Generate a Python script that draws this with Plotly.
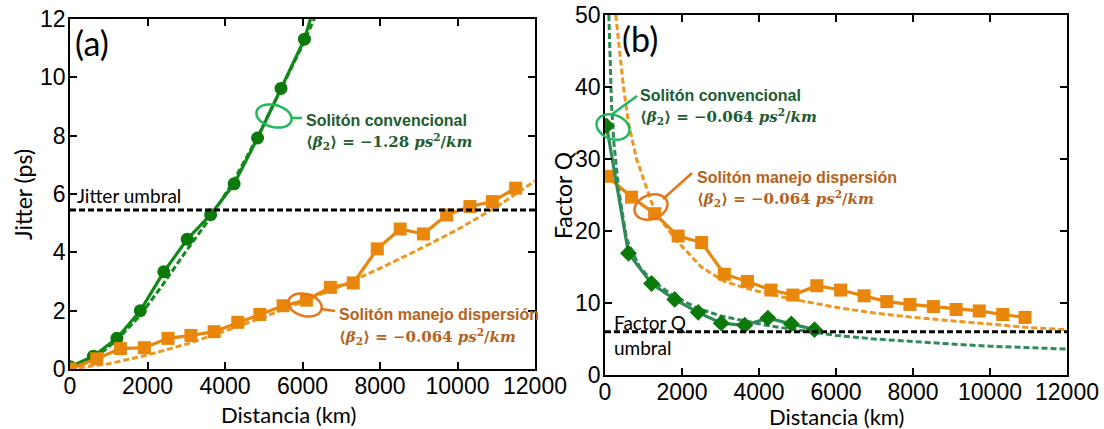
import numpy as np
import plotly.graph_objects as go

W, H = 1104, 429

# ---------------- Panel (a): Jitter ----------------
dist_conv_a = [0, 605, 1210, 1815, 2420, 3025, 3630, 4235, 4840, 5445, 6050, 6655]
jitter_conv = [0.08, 0.44, 1.05, 2.0, 3.33, 4.45, 5.29, 6.35, 7.92, 9.62, 11.31, 14.0]

fit_dist_conv_a = [0, 600, 1200, 1800, 2400, 3000, 3600, 4200, 4800, 5400, 6000, 6300, 6600]
fit_jitter_conv = [0, 0.33, 0.98, 1.82, 2.9, 4.05, 5.15, 6.4, 7.85, 9.45, 11.1, 12.0, 12.9]

dist_dm_a = [0, 690, 1300, 1920, 2530, 3120, 3720, 4330, 4900, 5500, 6100, 6720,
             7310, 7930, 8520, 9120, 9720, 10320, 10900, 11500]
jitter_dm = [0.0, 0.35, 0.70, 0.73, 1.05, 1.15, 1.28, 1.60, 1.87, 2.17, 2.36, 2.80,
             2.95, 4.12, 4.80, 4.63, 5.28, 5.57, 5.74, 6.20]

fit_dist_dm_a = [0, 1000, 2000, 3000, 4000, 5000, 6000, 7000, 8000, 9000, 10000, 11000, 12000]
fit_jitter_dm = [0, 0.18, 0.48, 0.85, 1.3, 1.78, 2.3, 2.85, 3.45, 4.1, 4.78, 5.55, 6.45]

jitter_umbral = 5.45

# ---------------- Panel (b): Factor Q ----------------
dist_conv_b = [40, 610, 1210, 1810, 2420, 3020, 3630, 4230, 4840, 5440]
q_conv = [34.6, 16.9, 12.7, 10.5, 8.7, 7.2, 6.9, 7.9, 7.1, 6.3]

fit_dist_conv_b = [90, 100, 170, 235, 365, 560, 900, 1200, 1800, 2400, 3000, 3600, 4200,
                   4800, 5400, 6000, 7000, 8000, 9000, 10000, 11000, 12000]
fit_q_conv = [55, 50, 37.4, 32, 25.4, 18.9, 15.0, 13.2, 10.9, 9.3, 8.2, 7.5, 6.9,
              6.4, 6.0, 5.5, 5.0, 4.6, 4.3, 4.0, 3.8, 3.6]

dist_dm_b = [60, 690, 1290, 1900, 2510, 3100, 3700, 4310, 4880, 5500, 6120, 6730,
             7320, 7920, 8530, 9120, 9720, 10330, 10910]
q_dm = [27.6, 24.7, 22.4, 19.3, 18.4, 14.0, 13.0, 11.8, 11.1, 12.4, 11.8, 11.0,
        10.2, 9.8, 9.5, 9.1, 8.9, 8.4, 8.0]

fit_dist_dm_b = [260, 280, 480, 610, 820, 1130, 1300, 1820, 2500, 3100, 3700, 4300,
                 5000, 6000, 7000, 8000, 9000, 10000, 11000, 12000]
fit_q_dm = [55, 50, 40, 35, 30, 25.4, 22.6, 18.9, 15.0, 13.0, 12.0, 11.2,
            10.4, 9.4, 8.6, 8.0, 7.5, 7.0, 6.6, 6.3]

q_umbral = 6.0

x_ticks = [0, 2000, 4000, 6000, 8000, 10000, 12000]
x_ticktext = ["0", "2000", "4000", "6000", "8000", "10000", "12000"]
y_ticks_a = [0, 2, 4, 6, 8, 10, 12]
y_ticks_b = [0, 10, 20, 30, 40, 50]

# ---------------- styles ----------------
GREEN = "#0f8a17"
GREEN_DARK = "#0b7a0b"
TEAL = "#2e8b57"
ORANGE = "#e8870c"
ORANGE_FIT = "#f0961e"
TXT_GREEN = "#1d5c30"
TXT_ORANGE = "#b5621c"
ELL_GREEN = "#1fb85a"
ELL_ORANGE = "#e8751a"
DASH = "6px,3px"

fig = go.Figure()

# panel a
fig.add_trace(go.Scatter(x=fit_dist_conv_a, y=fit_jitter_conv, mode="lines",
                         line=dict(color=GREEN, width=3, dash=DASH), xaxis="x", yaxis="y"))
fig.add_trace(go.Scatter(x=dist_conv_a, y=jitter_conv, mode="lines+markers",
                         line=dict(color=GREEN, width=3.2),
                         marker=dict(symbol="circle", size=13, color=GREEN_DARK),
                         xaxis="x", yaxis="y"))
fig.add_trace(go.Scatter(x=fit_dist_dm_a, y=fit_jitter_dm, mode="lines",
                         line=dict(color=ORANGE_FIT, width=3, dash=DASH), xaxis="x", yaxis="y"))
fig.add_trace(go.Scatter(x=dist_dm_a, y=jitter_dm, mode="lines+markers",
                         line=dict(color=ORANGE, width=3.2),
                         marker=dict(symbol="square", size=13, color=ORANGE),
                         xaxis="x", yaxis="y"))
fig.add_trace(go.Scatter(x=[0, 12000], y=[jitter_umbral, jitter_umbral], mode="lines",
                         line=dict(color="black", width=3, dash=DASH), xaxis="x", yaxis="y"))

# panel b
fig.add_trace(go.Scatter(x=fit_dist_dm_b, y=fit_q_dm, mode="lines",
                         line=dict(color=ORANGE_FIT, width=3, dash=DASH), xaxis="x2", yaxis="y2"))
fig.add_trace(go.Scatter(x=fit_dist_conv_b, y=fit_q_conv, mode="lines",
                         line=dict(color=TEAL, width=3, dash=DASH), xaxis="x2", yaxis="y2"))
fig.add_trace(go.Scatter(x=dist_dm_b, y=q_dm, mode="lines+markers",
                         line=dict(color=ORANGE, width=3.2),
                         marker=dict(symbol="square", size=13, color=ORANGE),
                         xaxis="x2", yaxis="y2"))
fig.add_trace(go.Scatter(x=dist_conv_b, y=q_conv, mode="lines+markers",
                         line=dict(color=TEAL, width=3.2),
                         marker=dict(symbol="diamond", size=13, color=GREEN_DARK),
                         xaxis="x2", yaxis="y2"))
fig.add_trace(go.Scatter(x=[0, 12000], y=[q_umbral, q_umbral], mode="lines",
                         line=dict(color="black", width=3, dash=DASH), xaxis="x2", yaxis="y2"))

tickfont = dict(family="Liberation Sans, Arial", size=23, color="black")
axis_common = dict(showline=True, linecolor="black", linewidth=1.5, mirror="ticks",
                   ticks="inside", ticklen=7, tickwidth=1.5, tickcolor="black",
                   showgrid=False, zeroline=False, tickfont=tickfont, automargin=False)

fig.update_layout(
    width=W, height=H, margin=dict(l=0, r=0, t=0, b=0),
    paper_bgcolor="white", plot_bgcolor="white", showlegend=False, template="none",
    xaxis=dict(domain=[70 / W, 535 / W], range=[0, 12000], tickvals=x_ticks, ticktext=x_ticktext,
               anchor="y", ticklabelstandoff=-4, **axis_common),
    yaxis=dict(domain=[(H - 369) / H, (H - 19) / H], range=[0, 12], tickvals=y_ticks_a, anchor="x",
               ticklabelstandoff=-2, **axis_common),
    xaxis2=dict(domain=[605 / W, 1067 / W], range=[0, 12000], tickvals=x_ticks, ticktext=x_ticktext,
                anchor="y2", ticklabelstandoff=-4, **axis_common),
    yaxis2=dict(domain=[(H - 375) / H, (H - 15) / H], range=[0, 50], tickvals=y_ticks_b, anchor="x2",
                ticklabelstandoff=-2, **axis_common),
)


def px(x):
    return x / W


def py(y):
    return 1 - y / H


def ell_path(rx, ry, ang_deg):
    t = np.linspace(0, 2 * np.pi, 64)
    a = np.deg2rad(ang_deg)
    xs = rx * np.cos(t) * np.cos(a) - ry * np.sin(t) * np.sin(a)
    ys = rx * np.cos(t) * np.sin(a) + ry * np.sin(t) * np.cos(a)
    pts = " L ".join(f"{u:.2f},{v:.2f}" for u, v in zip(xs, ys))
    return "M " + pts + " Z"


def add_ellipse(cx, cy, rx, ry, ang, color):
    fig.add_shape(type="path", xref="paper", yref="paper", xsizemode="pixel", ysizemode="pixel",
                  xanchor=px(cx), yanchor=py(cy), path=ell_path(rx, ry, ang),
                  line=dict(color=color, width=2.5))


def add_seg(x0, y0, x1, y1, color):
    fig.add_shape(type="line", xref="paper", yref="paper", x0=px(x0), y0=py(y0), x1=px(x1), y1=py(y1),
                  line=dict(color=color, width=2.5))


add_ellipse(274, 116, 18, 11, -15, ELL_GREEN)
add_seg(292, 118, 302, 118, ELL_GREEN)
add_ellipse(305, 305, 17, 11, -15, ELL_ORANGE)
add_seg(321, 309, 335, 311, ELL_ORANGE)
add_ellipse(613, 127, 17, 12, -20, ELL_GREEN)
add_seg(611, 115, 637, 96, ELL_GREEN)
add_ellipse(651, 207, 17, 12, 20, ELL_ORANGE)
add_seg(663, 199, 692, 173, ELL_ORANGE)


def add_text(x, y, text, size, color="black", family="Lato", xanchor="left", angle=0):
    fig.add_annotation(x=px(x), y=py(y), xref="paper", yref="paper", text=text, showarrow=False,
                       xanchor=xanchor, yanchor="middle", textangle=angle,
                       font=dict(family=family, size=size, color=color))


SANS_B = "Liberation Sans, Arial"
MATH = "DejaVu Serif"
beta = lambda v: f"<b>⟨<i>β</i><sub>2</sub>⟩ = −{v} <i>ps</i><sup>2</sup>/<i>km</i></b>"

add_text(304, 120, "<b>Solitón convencional</b>", 16, TXT_GREEN, SANS_B)
add_text(304, 141, beta("1.28"), 15, TXT_GREEN, MATH)
add_text(337, 314, "<b>Solitón manejo dispersión</b>", 16, TXT_ORANGE, SANS_B)
add_text(337, 336, beta("0.064"), 15, TXT_ORANGE, MATH)
add_text(638, 96, "<b>Solitón convencional</b>", 16, TXT_GREEN, SANS_B)
add_text(638, 117, beta("0.064"), 15, TXT_GREEN, MATH)
add_text(695, 177, "<b>Solitón manejo dispersión</b>", 16, TXT_ORANGE, SANS_B)
add_text(695, 199, beta("0.064"), 15, TXT_ORANGE, MATH)

add_text(73, 42, "(a)", 34)
add_text(620, 38, "(b)", 34)
add_text(75, 195, "Jitter umbral", 19)
add_text(612, 322, "Factor Q", 19)
add_text(612, 347, "umbral", 19)

add_text(23, 195, "Jitter (ps)", 23, xanchor="center", angle=-90)
add_text(563, 195, "Factor Q", 23, xanchor="center", angle=-90)
add_text(288, 414, "Distancia (km)", 22, xanchor="center")
add_text(836, 416, "Distancia (km)", 22, xanchor="center")

fig.write_html("out.html")
